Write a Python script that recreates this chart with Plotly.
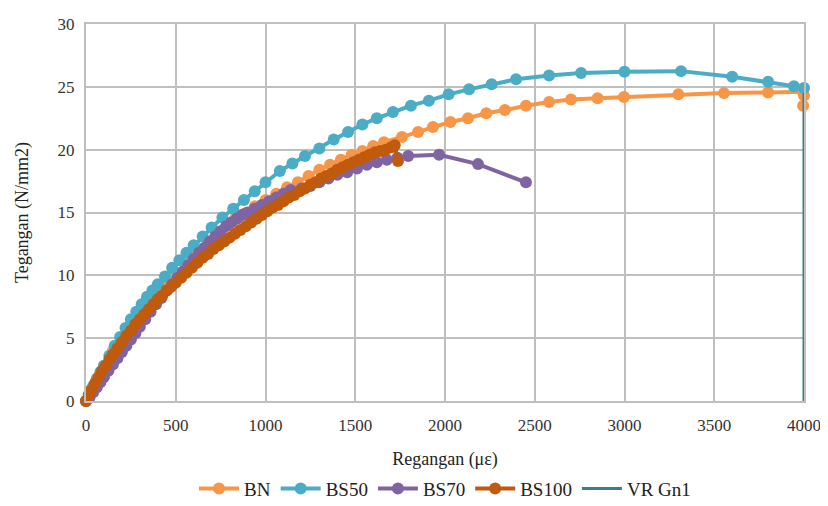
import plotly.graph_objects as go

# ---- data ----
bn_x = [0, 30, 60, 100, 150, 200, 250, 300, 350, 400, 450, 500, 560, 620, 680, 740, 800, 830, 880, 940,
        1000, 1060, 1120, 1180, 1240, 1300, 1360, 1420, 1480, 1540, 1600, 1660, 1760, 1850, 1933, 2030,
        2128, 2230, 2334, 2451, 2580, 2702, 2850, 2997, 3300, 3554, 3800, 3994, 4000, 3995]
bn_y = [0, 0.9, 1.8, 2.8, 4.0, 5.0, 6.0, 6.9, 7.8, 8.6, 9.4, 10.1, 10.9, 11.8, 12.6, 13.4, 14.1, 14.5, 14.9, 15.5,
        16.0, 16.5, 17.0, 17.4, 17.9, 18.4, 18.8, 19.2, 19.6, 19.9, 20.3, 20.6, 21.0, 21.4, 21.8, 22.2,
        22.5, 22.9, 23.15, 23.5, 23.8, 24.0, 24.1, 24.2, 24.4, 24.5, 24.55, 24.6, 24.3, 23.5]

bs50_x = [0, 20, 40, 60, 80, 100, 130, 160, 190, 220, 250, 280, 310, 340, 370, 400, 440, 480, 520, 560,
          600, 650, 700, 760, 820, 880, 940, 1000, 1080, 1150, 1220, 1300, 1380, 1460, 1540, 1620, 1710,
          1810, 1910, 2020, 2134, 2260, 2396, 2580, 2758, 3000, 3315, 3600, 3800, 3944, 4000]
bs50_y = [0, 0.6, 1.2, 1.7, 2.3, 2.8, 3.6, 4.4, 5.1, 5.8, 6.5, 7.1, 7.7, 8.3, 8.8, 9.3, 9.9, 10.6, 11.2, 11.8,
          12.4, 13.1, 13.8, 14.6, 15.3, 16.0, 16.7, 17.4, 18.3, 18.9, 19.5, 20.1, 20.8, 21.4, 22.0, 22.5, 23.0,
          23.5, 23.9, 24.4, 24.8, 25.2, 25.6, 25.9, 26.1, 26.2, 26.25, 25.8, 25.4, 25.05, 24.9]

bs70_x = [0, 20, 40, 60, 80, 100, 125, 150, 175, 200, 225, 250, 275, 300, 330, 360, 390, 420, 450, 480,
          510, 540, 570, 600, 630, 660, 690, 720, 750, 780, 810, 840, 870, 900, 940, 980, 1020, 1060, 1100,
          1140, 1200, 1250, 1300, 1350, 1400, 1455, 1510, 1565, 1620, 1676, 1735, 1795, 1967, 2184, 2451]
bs70_y = [0, 0.3, 0.7, 1.1, 1.5, 1.9, 2.4, 2.9, 3.4, 3.9, 4.4, 4.9, 5.4, 5.9, 6.5, 7.1, 7.7, 8.2, 8.8, 9.3,
          9.8, 10.3, 10.8, 11.3, 11.8, 12.2, 12.7, 13.1, 13.5, 13.9, 14.2, 14.5, 14.8, 15.0, 15.3, 15.6, 15.9,
          16.2, 16.5, 16.8, 16.9, 17.1, 17.4, 17.7, 18.0, 18.2, 18.5, 18.8, 19.0, 19.2, 19.35, 19.5, 19.6,
          18.85, 17.4]

bs100_x = [0, 15, 30, 50, 70, 90, 110, 130, 150, 175, 200, 225, 250, 275, 300, 325, 350, 375, 400, 425,
           450, 475, 500, 530, 560, 590, 620, 650, 680, 710, 740, 770, 800, 830, 860, 890, 920, 950, 980,
           1010, 1040, 1070, 1100, 1130, 1160, 1190, 1220, 1250, 1280, 1310, 1340, 1370, 1400, 1430, 1460,
           1490, 1520, 1550, 1580, 1610, 1640, 1670, 1700, 1720, 1738]
bs100_y = [0, 0.5, 0.9, 1.4, 1.9, 2.4, 2.8, 3.3, 3.7, 4.2, 4.7, 5.2, 5.6, 6.1, 6.5, 6.9, 7.3, 7.7, 8.1, 8.4,
           8.8, 9.1, 9.4, 9.8, 10.2, 10.6, 11.0, 11.4, 11.7, 12.1, 12.4, 12.7, 13.0, 13.3, 13.6, 13.9, 14.2,
           14.5, 14.8, 15.1, 15.4, 15.6, 15.9, 16.2, 16.4, 16.7, 16.9, 17.2, 17.4, 17.7, 17.9, 18.1, 18.4,
           18.6, 18.8, 19.0, 19.2, 19.4, 19.6, 19.8, 19.9, 20.0, 20.2, 20.35, 19.1]

vr_x = [4000, 4000]
vr_y = [0, 24.5]

series_names = ["BN", "BS50", "BS70", "BS100", "VR Gn1"]
colors = ["#F79646", "#4BACC6", "#8064A2", "#C05A0C", "#3A7D8C"]

x_ticks = [0, 500, 1000, 1500, 2000, 2500, 3000, 3500, 4000]
y_ticks = [0, 5, 10, 15, 20, 25, 30]

fig = go.Figure()
for name, xs, ys, c in zip(series_names[:4], [bn_x, bs50_x, bs70_x, bs100_x],
                           [bn_y, bs50_y, bs70_y, bs100_y], colors[:4]):
    fig.add_trace(go.Scatter(x=xs, y=ys, name=name, mode="lines+markers",
                             line=dict(color=c, width=4),
                             marker=dict(color=c, size=12, symbol="circle"),
                             cliponaxis=False))
fig.add_trace(go.Scatter(x=vr_x, y=vr_y, name=series_names[4], mode="lines",
                         line=dict(color=colors[4], width=3), cliponaxis=False))

font_fam = "'Liberation Serif', 'Times New Roman', 'DejaVu Serif', serif"
grid_c = "#BFBFBF"
# page body has an 8px offset: margins compensate so the plot area lands at 86..804 x 24..401
fig.update_layout(
    width=828, height=506,
    margin=dict(l=78, r=32, t=16, b=113),
    paper_bgcolor="white", plot_bgcolor="white",
    font=dict(family=font_fam, size=16, color="#222222"),
    showlegend=True,
    legend=dict(orientation="h", x=0.5, xanchor="center", yref="container", y=0.05,
                yanchor="middle", font=dict(size=19, family=font_fam, color="#222222"),
                itemwidth=40, tracegroupgap=0),
    xaxis=dict(range=[0, 4000], tickvals=x_ticks, showgrid=True, gridcolor=grid_c, gridwidth=2,
               showline=True, linecolor=grid_c, linewidth=2, mirror=True, zeroline=False,
               automargin=False, ticks="", ticklabelstandoff=8,
               tickfont=dict(size=17, family=font_fam, color="#333333"),
               title=dict(text="Regangan (με)", standoff=27,
                          font=dict(size=18, family=font_fam, color="#222222"))),
    yaxis=dict(range=[0, 30], tickvals=y_ticks, showgrid=True, gridcolor=grid_c, gridwidth=2,
               showline=True, linecolor=grid_c, linewidth=2, mirror=True, zeroline=False,
               automargin=False, ticks="", ticklabelstandoff=6,
               tickfont=dict(size=17, family=font_fam, color="#333333"),
               title=dict(text="Tegangan (N/mm2)", standoff=24,
                          font=dict(size=18, family=font_fam, color="#222222"))),
)
fig.write_html("out.html")
